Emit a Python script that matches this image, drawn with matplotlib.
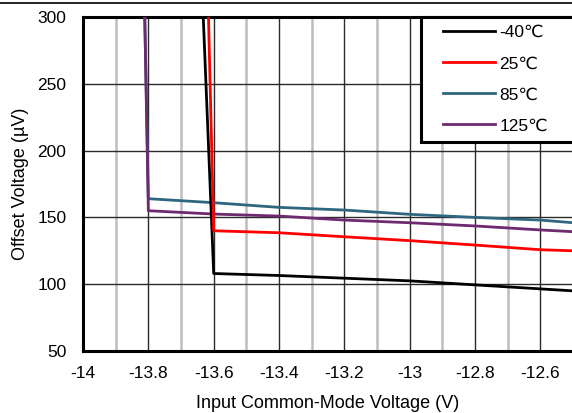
import matplotlib.pyplot as plt
from matplotlib.lines import Line2D
from matplotlib.patches import Rectangle

plt.rcParams['font.family'] = ['Liberation Sans', 'DejaVu Sans']

# offset voltage vs input common-mode voltage, one curve per temperature
vcm_m40 = [-13.632, -13.6, -13.4, -13.2, -13.0, -12.8, -12.6, -12.5]
vos_m40 = [300, 108, 106.5, 104.5, 102.5, 99.5, 96.5, 95]

vcm_25 = [-13.616, -13.6, -13.4, -13.2, -13.0, -12.8, -12.6, -12.5]
vos_25 = [300, 140, 138.5, 135.5, 132.6, 129.3, 125.8, 125]

vcm_85 = [-13.811, -13.8, -13.6, -13.4, -13.2, -13.0, -12.8, -12.6, -12.5]
vos_85 = [300, 164, 161, 157.5, 155.5, 152.3, 150, 148, 146]

vcm_125 = [-13.811, -13.8, -13.6, -13.4, -13.2, -13.0, -12.8, -12.6, -12.5]
vos_125 = [300, 155, 152.5, 151, 148, 146, 143.6, 140.6, 139.3]

labels = ['-40\u2103', '25\u2103', '85\u2103', '125\u2103']
colors = ['#000000', '#FF0000', '#2F6680', '#6E2A6E']

xticks = [-14, -13.8, -13.6, -13.4, -13.2, -13, -12.8, -12.6]
xtick_labels = ['-14', '-13.8', '-13.6', '-13.4', '-13.2', '-13', '-12.8', '-12.6']
yticks = [50, 100, 150, 200, 250, 300]

W, H = 572, 413
fig = plt.figure(figsize=(W / 100, H / 100), dpi=100)
ax = fig.add_axes([83 / W, 1 - 351 / H, 1 - 83 / W + 0.002, 334 / H])

# grid: light minor lines every 0.1 V, darker ones every 0.2 V
for x in [-13.9, -13.7, -13.5, -13.3, -13.1, -12.9, -12.7, -12.5]:
    ax.axvline(x, color='#BDBDBD', linewidth=1.8, zorder=1)
for x in xticks[1:]:
    ax.axvline(x, color='#2A2A2A', linewidth=1.0, zorder=1)
for y in yticks[1:-1]:
    ax.axhline(y, color='#2A2A2A', linewidth=1.0, zorder=1)

ax.plot(vcm_85, vos_85, color=colors[2], linewidth=2, label=labels[2], zorder=3)
ax.plot(vcm_125, vos_125, color=colors[3], linewidth=2, label=labels[3], zorder=3)
ax.plot(vcm_m40, vos_m40, color=colors[0], linewidth=2, label=labels[0], zorder=3)
ax.plot(vcm_25, vos_25, color=colors[1], linewidth=2, label=labels[1], zorder=3)

ax.set_xlim(-14, -12.5)
ax.set_ylim(50, 300)
ax.set_xticks(xticks)
ax.set_xticklabels(xtick_labels)
ax.set_yticks(yticks)
ax.tick_params(length=0, labelsize=12.5, colors='black')
ax.tick_params(axis='x', pad=11)
ax.tick_params(axis='y', pad=12)

for side in ['left', 'bottom', 'top']:
    ax.spines[side].set_linewidth(2.2)
    ax.spines[side].set_color('black')
ax.spines['right'].set_visible(False)

ax.set_xlabel('Input Common-Mode Voltage (V)', fontsize=13, labelpad=10)
ax.set_ylabel('Offset Voltage (\u00b5V)', fontsize=13, labelpad=6)

# legend box drawn by hand, entries placed inside it
box = Rectangle((421 / W, 1 - 142 / H), 170 / W, 125 / H, transform=fig.transFigure,
                facecolor='white', edgecolor='black', linewidth=2.2, zorder=5)
fig.add_artist(box)

handles, hl = ax.get_legend_handles_labels()
order = [hl.index(l) for l in labels]
leg = fig.legend([handles[i] for i in order], [hl[i] for i in order],
                 loc='upper left', bbox_to_anchor=(443 / W, 1 - 25 / H),
                 fontsize=12.5, frameon=False,
                 handlelength=3.0, handletextpad=0.25, labelspacing=0.92,
                 borderpad=0, borderaxespad=0)
leg.set_zorder(6)

# thin rule across the top of the page
fig.add_artist(Line2D([0, 1], [1 - 3 / H, 1 - 3 / H], color='black', linewidth=1.2))

fig.savefig('out.png', dpi=100)
